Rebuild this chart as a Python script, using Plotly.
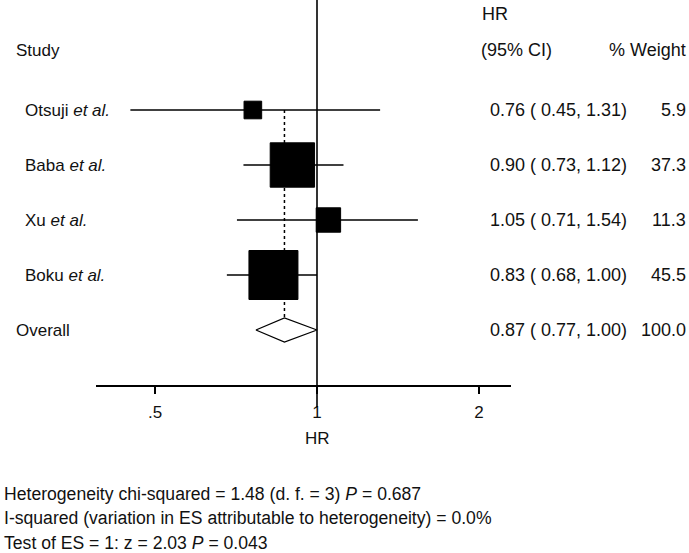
"""Forest plot of hazard ratios (fixed-effect meta-analysis)."""

import math

import plotly.graph_objects as go

studies = [
    "Otsuji <i>et al.</i>",
    "Baba <i>et al.</i>",
    "Xu <i>et al.</i>",
    "Boku <i>et al.</i>",
]
hazard_ratios = [0.76, 0.90, 1.05, 0.83]
ci_lower = [0.45, 0.73, 0.71, 0.68]
ci_upper = [1.31, 1.12, 1.54, 1.00]
weights = [5.9, 37.3, 11.3, 45.5]

overall_hr = 0.87
overall_lower = 0.77
overall_upper = 1.00
overall_weight = 100.0

x_tick_values = [0.5, 1, 2]
x_tick_labels = [".5", "1", "2"]

footer_lines = [
    "Heterogeneity chi-squared = 1.48 (d. f. = 3) <i>P</i> = 0.687",
    "I-squared (variation in ES attributable to heterogeneity) = 0.0%",
    "Test of ES = 1: z = 2.03 <i>P</i> = 0.043",
]

FONT = "Liberation Sans, Arial, sans-serif"
TEXT_COLOR = "#111111"
WIDTH, HEIGHT = 689, 553
AXIS_PX = 385          # pixel row of the x axis line
ROW0_PX, ROW_STEP = 110, 55


def paper_y(pixel):
    return (AXIS_PX - pixel) / AXIS_PX


def row_of(pixel):
    return (pixel - ROW0_PX) / ROW_STEP


# log2 scale: x=1 at 317 px, one doubling = 162 px
def hr_at(pixel):
    return 2 ** ((pixel - 317) / 162)


rows = list(range(len(studies)))
overall_row = len(studies)

figure = go.Figure()

# confidence interval whiskers
ci_x, ci_y = [], []
for row, lo, hi in zip(rows, ci_lower, ci_upper):
    ci_x += [lo, hi, None]
    ci_y += [row, row, None]
figure.add_trace(
    go.Scatter(
        x=ci_x, y=ci_y, mode="lines",
        line={"color": "black", "width": 1.6},
        hoverinfo="skip",
    )
)

# dotted line at the pooled estimate
figure.add_trace(
    go.Scatter(
        x=[overall_hr, overall_hr], y=[rows[0], overall_row], mode="lines",
        line={"color": "black", "width": 1.5, "dash": "dot"},
        hoverinfo="skip",
    )
)

# weight-scaled boxes
max_weight = max(weights)
figure.add_trace(
    go.Scatter(
        x=hazard_ratios, y=rows, mode="markers",
        marker={
            "symbol": "square",
            "color": "black",
            "opacity": 1,
            "size": [49 * math.sqrt(w / max_weight) for w in weights],
            "line": {"color": "black", "width": 1},
        },
        customdata=weights,
        hovertemplate="HR=%{x:.2f}<br>weight=%{customdata}%<extra></extra>",
    )
)

# pooled diamond
half_height = 0.22
figure.add_trace(
    go.Scatter(
        x=[overall_lower, overall_hr, overall_upper, overall_hr, overall_lower],
        y=[overall_row, overall_row - half_height, overall_row,
           overall_row + half_height, overall_row],
        mode="lines", fill="toself", fillcolor="white",
        line={"color": "black", "width": 1.3},
        hoverinfo="skip",
    )
)

# line of no effect
figure.add_shape(
    type="line", xref="x", yref="paper",
    x0=1, x1=1, y0=1, y1=paper_y(407),
    line={"color": "black", "width": 1.6},
)

label_font = {"family": FONT, "size": 17, "color": TEXT_COLOR}
number_font = {"family": FONT, "size": 18, "color": TEXT_COLOR}
footer_font = {"family": FONT, "size": 17.6, "color": TEXT_COLOR}
annotations = []


def add_text(text, x, y, xanchor="left", yref="y", font=label_font):
    annotations.append(
        dict(
            text=text, x=x, y=y, xref="paper", yref=yref,
            xanchor=xanchor, yanchor="middle", showarrow=False,
            font=font,
        )
    )


# headers
add_text("Study", 14 / WIDTH, row_of(50))
add_text("HR", 480 / WIDTH, row_of(14), font=number_font)
add_text("(95% CI)", 479 / WIDTH, row_of(50), font=number_font)
add_text("% Weight", 688 / WIDTH, row_of(50), xanchor="right",
         font=number_font)

for row, name, est, lo, hi, w in zip(
        rows, studies, hazard_ratios, ci_lower, ci_upper, weights):
    add_text(name, 23 / WIDTH, row)
    add_text(f"{est:.2f} ( {lo:.2f}, {hi:.2f})", 488 / WIDTH, row,
             font=number_font)
    add_text(f"{w:.1f}", 688 / WIDTH, row, xanchor="right", font=number_font)

add_text("Overall", 14 / WIDTH, overall_row)
add_text(f"{overall_hr:.2f} ( {overall_lower:.2f}, {overall_upper:.2f})",
         488 / WIDTH, overall_row, font=number_font)
add_text(f"{overall_weight:.1f}", 688 / WIDTH, overall_row, xanchor="right",
         font=number_font)

# axis title (annotation x is log10 on a log axis)
annotations.append(
    dict(
        text="HR", x=math.log10(1), y=paper_y(438), xref="x", yref="paper",
        xanchor="center", yanchor="middle", showarrow=False, font=label_font,
    )
)

for pixel, line in zip([494, 518, 543], footer_lines):
    add_text(line, 2 / WIDTH, paper_y(pixel), yref="paper", font=footer_font)

figure.update_layout(
    width=WIDTH,
    height=HEIGHT,
    margin={"l": 0, "r": 0, "t": 0, "b": HEIGHT - AXIS_PX},
    paper_bgcolor="white",
    plot_bgcolor="white",
    showlegend=False,
    font=label_font,
    annotations=annotations,
    xaxis={
        "type": "log",
        "domain": [96 / WIDTH, 511 / WIDTH],
        "range": [math.log10(hr_at(96)), math.log10(hr_at(511))],
        "tickvals": x_tick_values,
        "ticktext": x_tick_labels,
        "ticks": "outside",
        "ticklen": 7,
        "tickwidth": 1.5,
        "tickcolor": "black",
        "ticklabelstandoff": 4,
        "showline": True,
        "linecolor": "black",
        "linewidth": 1.6,
        "showgrid": False,
        "zeroline": False,
        "tickfont": label_font,
    },
    yaxis={
        "visible": False,
        "range": [row_of(AXIS_PX), row_of(0)],
        "showgrid": False,
        "zeroline": False,
    },
)

# the page body has an 8px default margin; drop it so the figure sits at 0,0
figure.write_html(
    "out.html",
    config={"displayModeBar": False},
    post_script="document.body.style.margin = '0';",
)
